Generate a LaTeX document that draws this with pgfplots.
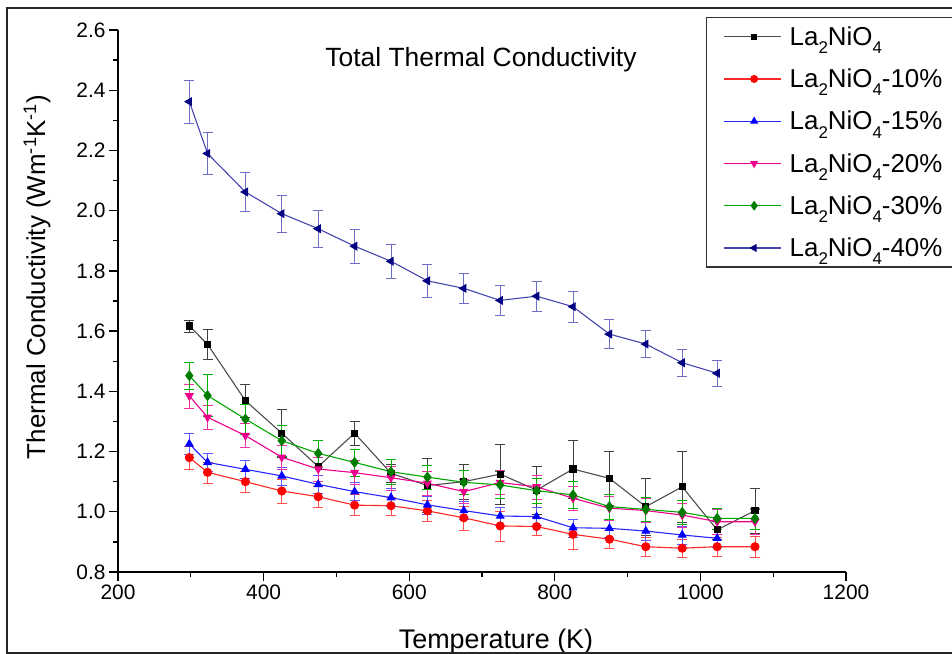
\documentclass[border=0pt]{standalone}
\usepackage{fontspec}
\setmainfont{Liberation Sans}
\usepackage{pgfplots}
\pgfplotsset{compat=1.18}
\usepackage{pgfplotstable}

% T (K), k (W/mK), error
\pgfplotstableread{
T k e
298 1.617 0.020
323 1.556 0.050
375 1.369 0.055
425 1.261 0.080
475 1.150 0.030
525 1.261 0.040
575 1.128 0.030
625 1.087 0.090
675 1.100 0.058
725 1.125 0.100
775 1.072 0.080
825 1.142 0.097
875 1.111 0.090
925 1.017 0.094
975 1.083 0.117
1023 0.940 0.030
1075 1.004 0.074
}\pure

\pgfplotstableread{
T k e
298 1.180 0.037
323 1.131 0.035
375 1.100 0.035
425 1.069 0.040
475 1.050 0.035
525 1.022 0.035
575 1.020 0.030
625 1.003 0.035
675 0.980 0.040
725 0.953 0.050
775 0.951 0.030
825 0.925 0.050
875 0.909 0.030
925 0.884 0.030
975 0.879 0.030
1023 0.884 0.030
1075 0.884 0.035
}\pten

\pgfplotstableread{
T k e
298 1.225 0.035
323 1.164 0.030
375 1.141 0.030
425 1.119 0.030
475 1.091 0.030
525 1.067 0.030
575 1.047 0.030
625 1.023 0.030
675 1.004 0.030
725 0.986 0.030
775 0.984 0.030
825 0.947 0.030
875 0.945 0.030
925 0.936 0.030
975 0.923 0.030
1023 0.912 0.030
}\pfifteen

\pgfplotstableread{
T k e
298 1.385 0.040
323 1.314 0.040
375 1.253 0.040
425 1.181 0.040
475 1.142 0.040
525 1.130 0.040
575 1.113 0.040
625 1.095 0.040
675 1.067 0.040
725 1.097 0.040
775 1.083 0.040
825 1.045 0.040
875 1.012 0.040
925 1.004 0.040
975 0.989 0.040
1023 0.967 0.040
1075 0.967 0.040
}\ptwenty

\pgfplotstableread{
T k e
298 1.452 0.045
323 1.386 0.070
375 1.308 0.050
425 1.236 0.050
475 1.194 0.045
525 1.164 0.045
575 1.133 0.040
625 1.115 0.040
675 1.098 0.040
725 1.089 0.045
775 1.070 0.040
825 1.056 0.045
875 1.017 0.040
925 1.008 0.040
975 0.998 0.040
1023 0.978 0.035
1075 0.978 0.035
}\pthirty

\pgfplotstableread{
T k e
298 2.362 0.072
323 2.190 0.070
375 2.062 0.065
425 1.990 0.060
475 1.940 0.060
525 1.882 0.058
575 1.832 0.055
625 1.767 0.055
675 1.742 0.050
725 1.702 0.050
775 1.716 0.050
825 1.681 0.050
875 1.590 0.048
925 1.557 0.045
975 1.495 0.045
1023 1.460 0.044
}\pforty

\definecolor{navyline}{RGB}{70,70,175}
\definecolor{navyerr}{RGB}{110,110,200}
\definecolor{darkgreen}{RGB}{0,125,0}

% low subscripts as in the original legend
\newcommand\lsub[1]{\raisebox{-0.32em}{\fontsize{17}{17}\selectfont #1}}
\newcommand\lano{La\lsub{2}NiO\lsub{4}}

\pgfplotsset{
  sBlack/.style={draw=black!70, mark=square*, mark size=3bp, mark options={black}},
  sRed/.style={draw=red!85, mark=*, mark size=4bp, mark options={red}},
  sBlue/.style={draw=blue!85, mark=triangle*, mark size=4.2bp, mark options={blue}},
  sMag/.style={draw=magenta, mark=triangle*, mark size=4.2bp, mark options={magenta, rotate=180}},
  sGreen/.style={draw=green!65!black, mark=diamond*, mark size=4.7bp, mark options={darkgreen}},
  sNavy/.style={draw=navyline, mark=triangle*, mark size=4.2bp, mark options={blue!50!black, rotate=90}},
  eb/.style={error bars/.cd, y dir=both, y explicit,
    error bar style={#1}, error mark options={rotate=90, #1, mark size=5bp}},
}

% legend sample: line colour, mark, mark size, mark colour, mark rotation
\newcommand\legimg[5]{\addlegendimage{legend image code/.code={%
  \draw[draw=#1, line width=1.1bp] (0bp,0bp) -- (57bp,0bp);
  \draw[draw=#4, fill=#4] plot[only marks, mark=#2, mark size=#3,
    mark options={draw=#4, fill=#4, rotate=#5}] coordinates {(30bp,0bp)};}}}

\begin{document}
\begin{tikzpicture}
\useasboundingbox (0,0) rectangle (952bp,654bp);
\begin{axis}[
  at={(118bp,82bp)}, anchor=south west,
  scale only axis, width=728bp, height=542bp,
  xmin=200, xmax=1200, ymin=0.8, ymax=2.6,
  xtick={200,400,600,800,1000,1200},
  ytick={0.8,1.0,1.2,1.4,1.6,1.8,2.0,2.2,2.4,2.6},
  minor x tick num=1, minor y tick num=1,
  axis lines=left, axis line style={-, line width=1.5bp},
  tick align=outside, major tick length=9bp, minor tick length=5bp,
  major tick style={black, line width=1.3bp},
  minor tick style={black, line width=1.3bp},
  tick label style={font=\fontsize{21}{24}\selectfont},
  /pgf/number format/assume math mode=true,
  xticklabel style={/pgf/number format/1000 sep={}},
  yticklabel style={/pgf/number format/.cd, fixed, fixed zerofill, precision=1},
  clip=false,
  legend style={at={(axis description cs:0.8077,1.024)}, anchor=north west,
    draw=black!80, fill=white, text=black, line width=1.2bp, font=\fontsize{26}{28}\selectfont,
    inner xsep=17bp, inner ysep=7bp, row sep=18bp,
    nodes={inner xsep=8bp}},
  legend cell align=left,
  every axis plot/.append style={line width=1.1bp},
  error bars/error bar style={line width=1bp},
]
  \addplot[forget plot, sBlack, eb=black!75] table[x=T, y=k, y error=e] {\pure};
  \addplot[forget plot, sRed, eb=red!70] table[x=T, y=k, y error=e] {\pten};
  \addplot[forget plot, sBlue, eb=blue!65] table[x=T, y=k, y error=e] {\pfifteen};
  \addplot[forget plot, sMag, eb=magenta!80] table[x=T, y=k, y error=e] {\ptwenty};
  \addplot[forget plot, sGreen, eb=green!70!black] table[x=T, y=k, y error=e] {\pthirty};
  \addplot[forget plot, sNavy, eb=navyerr] table[x=T, y=k, y error=e] {\pforty};

  \legimg{black!70}{square*}{2.6bp}{black}{0}
  \addlegendentry{\lano}
  \legimg{red!85}{*}{3.4bp}{red}{0}
  \addlegendentry{\lano-10\%}
  \legimg{blue!85}{triangle*}{3.6bp}{blue}{0}
  \addlegendentry{\lano-15\%}
  \legimg{magenta}{triangle*}{3.6bp}{magenta}{180}
  \addlegendentry{\lano-20\%}
  \legimg{green!65!black}{diamond*}{4bp}{darkgreen}{0}
  \addlegendentry{\lano-30\%}
  \legimg{navyline}{triangle*}{3.6bp}{blue!50!black}{90}
  \addlegendentry{\lano-40\%}
\end{axis}
% titles and axis labels
\node[anchor=base, font=\fontsize{26.5}{30}\selectfont] at (481bp,587bp) {Total Thermal Conductivity};
\node[anchor=base, font=\fontsize{27}{30}\selectfont] at (496bp,6bp) {Temperature (K)};
\node[rotate=90, font=\fontsize{26}{30}\selectfont] at (37bp,377bp)
  {Thermal Conductivity (Wm\textsuperscript{-1}K\textsuperscript{-1})};
% outer frame
\draw[line width=1.8bp, black!85] (970bp,646bp) -- (7bp,646bp) -- (7bp,1bp) -- (970bp,1bp);
\end{tikzpicture}
\end{document}
